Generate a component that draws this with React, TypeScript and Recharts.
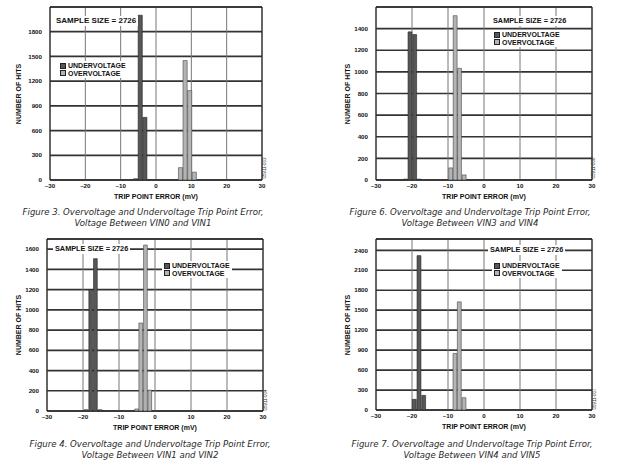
import { BarChart, Bar, XAxis, YAxis, CartesianGrid, ReferenceArea } from 'recharts';

// shared axis values
const xTicks = [-30, -20, -10, 0, 10, 20, 30];
const BIN_WIDTH = 1.3; // mV per histogram bin

// Figure 3 - VIN0 / VIN1
const fig3UnderBins = [-5.7, -4.4, -3.1];
const fig3UnderHits = [15, 2000, 760];
const fig3OverBins = [7.0, 8.3, 9.6, 10.9];
const fig3OverHits = [150, 1450, 1085, 95];
const fig3YTicks = [0, 300, 600, 900, 1200, 1500, 1800];
const fig3YMax = 2100;

// Figure 6 - VIN3 / VIN4
const fig6UnderBins = [-21.8, -20.5, -19.2, -17.9];
const fig6UnderHits = [8, 1370, 1345, 8];
const fig6OverBins = [-9.2, -7.95, -6.75, -5.45];
const fig6OverHits = [112, 1520, 1033, 47];
const fig6YTicks = [0, 200, 400, 600, 800, 1000, 1200, 1400];
const fig6YMax = 1600;

// Figure 4 - VIN1 / VIN2
const fig4UnderBins = [-19.1, -17.8, -16.5, -15.2];
const fig4UnderHits = [12, 1200, 1506, 12];
const fig4OverBins = [-5.05, -3.9, -2.6, -1.4];
const fig4OverHits = [20, 870, 1640, 206];
const fig4YTicks = [0, 200, 400, 600, 800, 1000, 1200, 1400, 1600];
const fig4YMax = 1700;

// Figure 7 - VIN4 / VIN5
const fig7UnderBins = [-19.3, -18.0, -16.7];
const fig7UnderHits = [160, 2320, 220];
const fig7OverBins = [-8.0, -6.8, -5.5];
const fig7OverHits = [850, 1625, 185];
const fig7YTicks = [0, 300, 600, 900, 1200, 1500, 1800, 2100, 2400];
const fig7YMax = 2570;

const UNDER = '#575757';
const OVER = '#b4b4b4';
const FONT = '"Liberation Sans", Arial, sans-serif';
const CAPTION_FONT = '"Liberation Sans Narrow", "DejaVu Sans Condensed", sans-serif';

function buildRows(uBins: number[], uHits: number[], oBins: number[], oHits: number[]) {
  const rows: { x: number; under: number | null; over: number | null }[] = [];
  uBins.forEach((x, i) => rows.push({ x, under: uHits[i], over: null }));
  oBins.forEach((x, i) => rows.push({ x, under: null, over: oHits[i] }));
  return rows.sort((a, b) => a.x - b.x);
}

const fmt = (v: number) => (v < 0 ? '\u2013' + Math.abs(v) : String(v));

const panels = [
  {
    ox: 0, oy: 0, plot: { left: 50, right: 262, top: 7, bottom: 180 },
    rows: buildRows(fig3UnderBins, fig3UnderHits, fig3OverBins, fig3OverHits),
    yTicks: fig3YTicks, yMax: fig3YMax, yTitleX: 19,
    sample: { x: 56, y: 21, size: 8 }, legend: { x: 60, y: 66 },
    code: { x: 264.5, y: 168, text: '05911-003' },
    caption: { cx: 143, y: 212, lines: ['Figure 3. Overvoltage and Undervoltage Trip Point Error,', 'Voltage Between VIN0 and VIN1'] },
  },
  {
    ox: 310, oy: 0, plot: { left: 376, right: 592, top: 7, bottom: 180 },
    rows: buildRows(fig6UnderBins, fig6UnderHits, fig6OverBins, fig6OverHits),
    yTicks: fig6YTicks, yMax: fig6YMax, yTitleX: 348,
    sample: { x: 493, y: 21, size: 7.3 }, legend: { x: 494, y: 35 },
    code: { x: 594, y: 168, text: '05911-006' },
    caption: { cx: 470, y: 212, lines: ['Figure 6. Overvoltage and Undervoltage Trip Point Error,', 'Voltage Between VIN3 and VIN4'] },
  },
  {
    ox: 0, oy: 230, plot: { left: 47, right: 263, top: 239, bottom: 411 },
    rows: buildRows(fig4UnderBins, fig4UnderHits, fig4OverBins, fig4OverHits),
    yTicks: fig4YTicks, yMax: fig4YMax, yTitleX: 19,
    sample: { x: 55, y: 249, size: 7.3 }, legend: { x: 164, y: 266 },
    code: { x: 266, y: 400, text: '05911-004' },
    caption: { cx: 150, y: 444, lines: ['Figure 4. Overvoltage and Undervoltage Trip Point Error,', 'Voltage Between VIN1 and VIN2'] },
  },
  {
    ox: 310, oy: 230, plot: { left: 376, right: 592, top: 239, bottom: 410 },
    rows: buildRows(fig7UnderBins, fig7UnderHits, fig7OverBins, fig7OverHits),
    yTicks: fig7YTicks, yMax: fig7YMax, yTitleX: 348,
    sample: { x: 490, y: 250, size: 7.3 }, legend: { x: 494, y: 266 },
    code: { x: 595, y: 399, text: '05911-007' },
    caption: { cx: 472, y: 444, lines: ['Figure 7. Overvoltage and Undervoltage Trip Point Error,', 'Voltage Between VIN4 and VIN5'] },
  },
];

const boldText = { fontFamily: FONT, fontWeight: 700, color: '#111', whiteSpace: 'nowrap' as const };

function Panel({ p }: { p: (typeof panels)[number] }) {
  const W = 300, H = 200, YW = 30, XH = 14;
  const margin = {
    top: p.plot.top - p.oy,
    right: p.ox + W - p.plot.right,
    bottom: p.oy + H - p.plot.bottom - XH,
    left: p.plot.left - p.ox - YW,
  };
  const barSize = ((p.plot.right - p.plot.left) * BIN_WIDTH) / 60;
  const midY = (p.plot.top + p.plot.bottom) / 2;
  const tick = { fontSize: 6.2, fontWeight: 700, fill: '#111', fontFamily: FONT };

  return (
    <>
      <div style={{ position: 'absolute', left: p.ox, top: p.oy }}>
        <BarChart width={W} height={H} data={p.rows} margin={margin}>
          <CartesianGrid vertical={false} stroke="#333" strokeWidth={1.7} />
          <CartesianGrid horizontal={false} stroke="#777" strokeWidth={1} />
          <XAxis type="number" dataKey="x" domain={[-30, 30]} ticks={xTicks} interval={0} height={XH}
            tickLine={false} axisLine={false} tickSize={0} tickMargin={4} tick={tick} tickFormatter={fmt} allowDataOverflow />
          <YAxis type="number" domain={[0, p.yMax]} ticks={p.yTicks} interval={0} width={YW}
            tickLine={false} axisLine={false} tickSize={0} tickMargin={8} tick={tick} allowDataOverflow />
          <ReferenceArea x1={-30} x2={30} y1={0} y2={p.yMax} fill="none" stroke="#111" strokeWidth={1} />
          <Bar dataKey="under" stackId="h" fill={UNDER} stroke="#222" strokeWidth={0.6} barSize={barSize} isAnimationActive={false} />
          <Bar dataKey="over" stackId="h" fill={OVER} stroke="#444" strokeWidth={0.6} barSize={barSize} isAnimationActive={false} />
        </BarChart>
      </div>

      {/* sample size box */}
      <div style={{ ...boldText, position: 'absolute', left: p.sample.x - 2, top: p.sample.y - 5, height: 10, lineHeight: '10px',
        fontSize: p.sample.size, background: '#fff', padding: '0 2px' }}>
        SAMPLE SIZE = 2726
      </div>

      {/* legend */}
      <div style={{ ...boldText, position: 'absolute', left: p.legend.x - 2, top: p.legend.y - 5, background: '#fff',
        padding: '1px 2px', fontSize: 7, lineHeight: '7.5px' }}>
        {[['UNDERVOLTAGE', UNDER], ['OVERVOLTAGE', OVER]].map(([label, c]) => (
          <div key={label} style={{ display: 'flex', alignItems: 'center', height: 7.5 }}>
            <span style={{ display: 'inline-block', width: 4, height: 4, background: c, border: '0.8px solid #222', marginRight: 2 }} />
            {label}
          </div>
        ))}
      </div>

      {/* axis titles */}
      <div style={{ ...boldText, position: 'absolute', left: p.yTitleX - 50, top: midY - 5, width: 100, height: 10, lineHeight: '10px',
        fontSize: 7, textAlign: 'center', transform: 'rotate(-90deg)' }}>
        NUMBER OF HITS
      </div>
      <div style={{ ...boldText, position: 'absolute', left: (p.plot.left + p.plot.right) / 2 - 60, top: p.plot.bottom + 12, width: 120,
        height: 10, lineHeight: '10px', fontSize: 7, textAlign: 'center' }}>
        TRIP POINT ERROR (mV)
      </div>

      {/* figure code */}
      <div style={{ position: 'absolute', left: p.code.x - 15, top: p.code.y - 3, width: 30, height: 6, lineHeight: '6px', fontSize: 4.5,
        fontFamily: FONT, color: '#333', textAlign: 'center', transform: 'rotate(-90deg)' }}>
        {p.code.text}
      </div>

      {/* caption */}
      {p.caption.lines.map((line, i) => (
        <div key={i} style={{ position: 'absolute', left: p.caption.cx - 130, top: p.caption.y - 6 + i * 10.5, width: 260, height: 12,
          lineHeight: '12px', textAlign: 'center', fontFamily: CAPTION_FONT, fontStyle: 'italic', fontSize: 9.5, color: '#2a2a2a', whiteSpace: 'nowrap' }}>
          {line}
        </div>
      ))}
    </>
  );
}

export default function App() {
  return (
    <div style={{ position: 'absolute', left: 0, top: 0, width: 620, height: 466, background: '#fff', overflow: 'hidden' }}>
      {panels.map((p, i) => (
        <Panel key={i} p={p} />
      ))}
    </div>
  );
}
